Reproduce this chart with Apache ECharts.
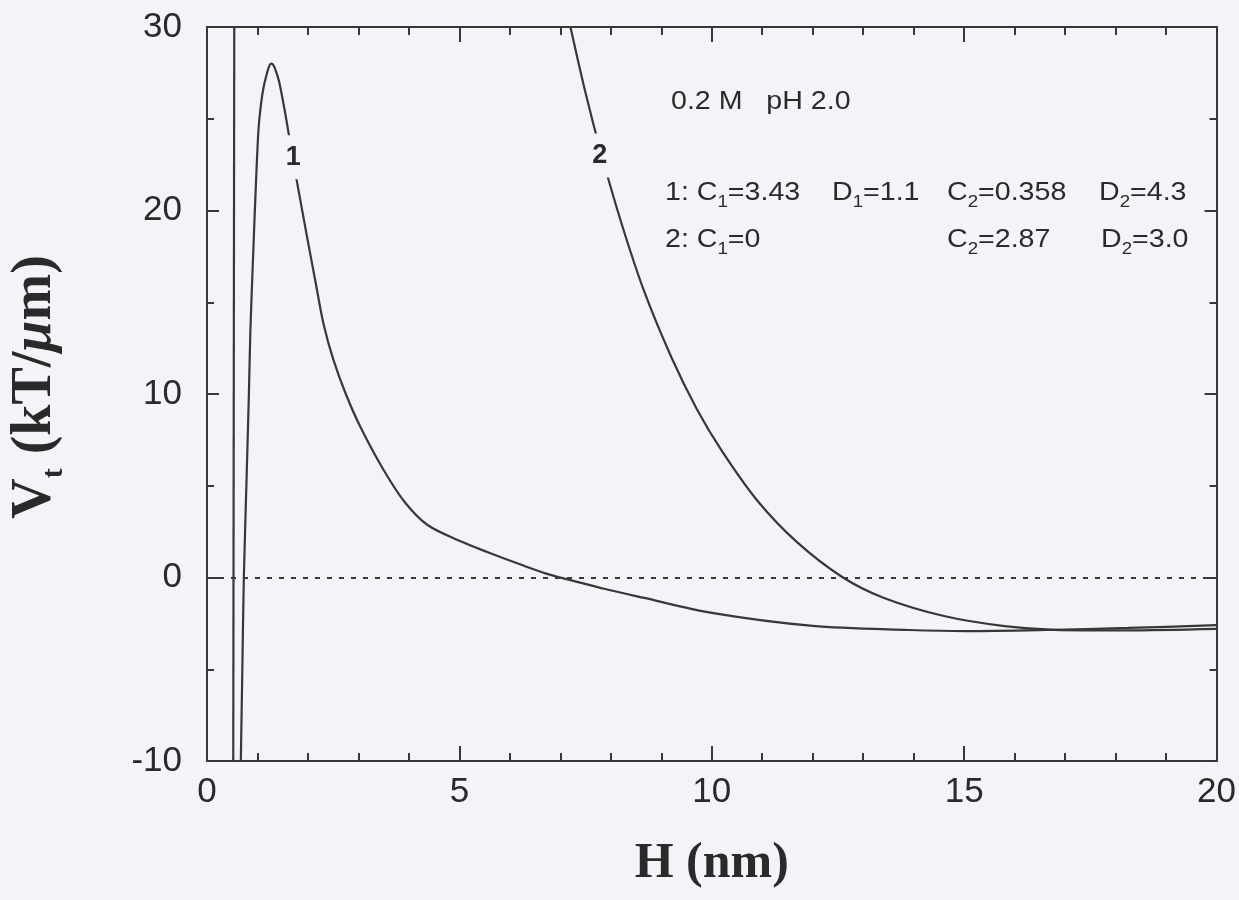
<!DOCTYPE html>
<html>
<head>
<meta charset="utf-8">
<script src="https://cdn.jsdelivr.net/npm/echarts@6/dist/echarts.min.js"></script>
<style>
  html, body { margin: 0; padding: 0; background: #f4f3f7; }
  #chart { width: 1239px; height: 900px; }
</style>
</head>
<body>
<div id="chart"></div>
<script>
// Total interaction potential V_t (kT/um) versus separation H (nm), 0.2 M, pH 2.0

// Curve 1: C1=3.43, D1=1.1, C2=0.358, D2=4.3
const curve1H = [0.67, 0.70, 0.73, 0.78, 0.83, 0.86, 0.92, 0.97, 1.02, 1.07, 1.12, 1.18, 1.23, 1.27, 1.32, 1.37, 1.43, 1.53, 1.63, 1.78, 2.0, 2.15, 2.31, 2.5, 2.75, 3.04, 3.49, 3.92, 4.37, 5.0, 5.55, 6.2, 6.81, 7.85, 8.64, 10.0, 12.0, 13.9, 15.05, 16.6, 18.25, 20.0];
const curve1V = [-10, -5, 0, 5, 10, 13.5, 18, 21.5, 24.4, 25.8, 26.7, 27.4, 27.85, 28.0, 27.9, 27.55, 27.0, 25.6, 24.0, 21.6, 18.3, 16.1, 13.8, 11.9, 10.0, 8.2, 5.9, 4.1, 2.86, 2.0, 1.39, 0.72, 0.14, -0.6, -1.1, -1.93, -2.64, -2.86, -2.92, -2.86, -2.75, -2.6];

// Curve 2: C1=0, C2=2.87, D2=3.0 (steep inner wall, then the outer branch)
const curve2WallH = [0.52, 0.54];
const curve2WallV = [-10, 30];
const curve2H = [7.2, 7.5, 7.8, 8.2, 8.66, 9.2, 9.7, 10.2, 10.9, 11.7, 12.6, 13.4, 14.6, 15.8, 16.8, 18.2, 20.0];
const curve2V = [30, 26.4, 23.2, 19.4, 15.6, 12.0, 9.2, 6.9, 4.2, 1.9, 0, -1.1, -2.1, -2.65, -2.85, -2.88, -2.8];

// Curve tags, placed on the curves
const curveTags = ['1', '2'];
const curveTagAt = [[1.71, 22.9], [7.78, 23.0]];

const BG = '#f4f3f7';
const INK = '#2a2a2a';
const LINE = '#383838';
const SANS = 'Liberation Sans, Arial, sans-serif';
const SERIF = 'Liberation Serif, Times New Roman, serif';

const pairs = (xs, ys) => xs.map((x, i) => [x, ys[i]]);

const chart = echarts.init(document.getElementById('chart'), null, { renderer: 'canvas' });

const frameLine = { show: true, onZero: false, lineStyle: { color: LINE, width: 2 } };

function xAxisOf(position, withLabels) {
  return {
    type: 'value', position, min: 0, max: 20, interval: 5,
    axisLine: frameLine,
    axisTick: { show: true, inside: true, length: 15, lineStyle: { color: LINE, width: 2 } },
    minorTick: { show: true, splitNumber: 5, length: 8, lineStyle: { color: LINE, width: 2 } },
    splitLine: { show: false },
    axisLabel: { show: withLabels, fontFamily: SANS, fontSize: 35, color: INK, margin: 14 },
    name: withLabels ? 'H (nm)' : '',
    nameLocation: 'middle', nameGap: 78,
    nameTextStyle: { fontFamily: SERIF, fontWeight: 'bold', fontSize: 50, color: INK }
  };
}

function yAxisOf(position, withLabels) {
  return {
    type: 'value', position, min: -10, max: 30, interval: 10,
    axisLine: frameLine,
    axisTick: { show: true, inside: true, length: 12, lineStyle: { color: LINE, width: 2 } },
    minorTick: { show: true, splitNumber: 2, length: 7, lineStyle: { color: LINE, width: 2 } },
    splitLine: { show: false },
    axisLabel: { show: withLabels, fontFamily: SANS, fontSize: 35, color: INK, margin: 25 },
    name: withLabels ? '{v|V}{t|t}{u| (kT/}{mu|μ}{u|m)}' : '',
    nameLocation: 'middle', nameGap: 138, nameRotate: 90,
    nameTextStyle: {
      color: INK,
      padding: [0, 0, 0, 14],
      rich: {
        v: { fontFamily: SERIF, fontWeight: 'bold', fontSize: 56, lineHeight: 66, color: INK },
        t: { fontFamily: SERIF, fontWeight: 'bold', fontSize: 30, lineHeight: 30, verticalAlign: 'bottom', color: INK },
        u: { fontFamily: SERIF, fontWeight: 'bold', fontSize: 56, lineHeight: 66, color: INK },
        mu: { fontFamily: SERIF, fontWeight: 'bold', fontStyle: 'italic', fontSize: 56, lineHeight: 66, color: INK }
      }
    }
  };
}

function tagPoint(i) {
  return {
    symbol: 'rect', symbolSize: [22, 44],
    itemStyle: { color: BG },
    label: { show: true, position: 'inside', formatter: curveTags[i], fontFamily: SANS, fontWeight: 'bold', fontSize: 27, color: INK },
    data: [{ coord: curveTagAt[i] }]
  };
}

const curveStyle = { color: LINE, width: 2.2 };

// Annotation text with subscripts
const subRich = {
  n: { fontFamily: SANS, fontSize: 26, lineHeight: 36, color: INK },
  s: { fontFamily: SANS, fontSize: 17, lineHeight: 17, verticalAlign: 'bottom', color: INK }
};
function note(x, y, text) {
  return {
    type: 'text', x, y, scaleX: 1.1, z: 10,
    style: { text, rich: subRich, verticalAlign: 'middle', align: 'left', fill: INK }
  };
}

chart.setOption({
  backgroundColor: BG,
  animation: false,
  grid: { left: 200, top: 27, width: 1020, height: 734, containLabel: false },
  xAxis: [xAxisOf('bottom', true), xAxisOf('top', false)],
  yAxis: [yAxisOf('left', true), yAxisOf('right', false)],
  series: [
    {
      name: 'curve 1', type: 'line', xAxisIndex: 0, yAxisIndex: 0,
      data: pairs(curve1H, curve1V),
      showSymbol: false, symbol: 'none', smooth: 0.3,
      lineStyle: curveStyle, clip: true,
      markLine: {
        silent: true, symbol: ['none', 'none'], label: { show: false },
        lineStyle: { type: [5, 7], color: LINE, width: 2 },
        data: [{ yAxis: 0 }]
      },
      markPoint: tagPoint(0)
    },
    {
      name: 'curve 2 wall', type: 'line', xAxisIndex: 0, yAxisIndex: 0,
      data: pairs(curve2WallH, curve2WallV),
      showSymbol: false, symbol: 'none', lineStyle: curveStyle, clip: true
    },
    {
      name: 'curve 2', type: 'line', xAxisIndex: 0, yAxisIndex: 0,
      data: pairs(curve2H, curve2V),
      showSymbol: false, symbol: 'none', smooth: 0.3,
      lineStyle: curveStyle, clip: true,
      markPoint: tagPoint(1)
    }
  ],
  graphic: [
    note(671, 102, '{n|0.2 M   pH 2.0}'),
    note(665, 193, '{n|1: C}{s|1}{n|=3.43}'),
    note(832, 193, '{n|D}{s|1}{n|=1.1}'),
    note(947, 193, '{n|C}{s|2}{n|=0.358}'),
    note(1099, 193, '{n|D}{s|2}{n|=4.3}'),
    note(665, 240, '{n|2: C}{s|1}{n|=0}'),
    note(947, 240, '{n|C}{s|2}{n|=2.87}'),
    note(1101, 240, '{n|D}{s|2}{n|=3.0}')
  ]
});
</script>
</body>
</html>
